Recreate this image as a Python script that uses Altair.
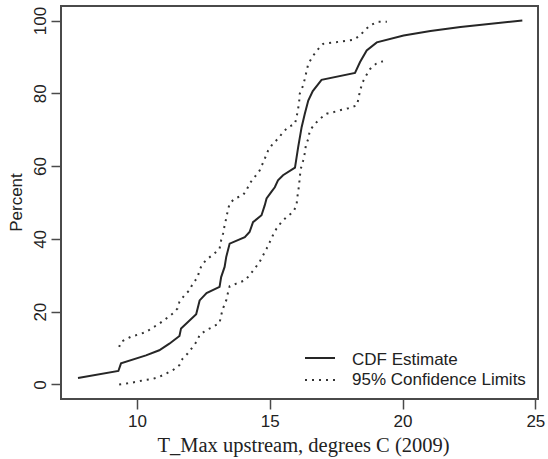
import altair as alt
import pandas as pd

# Empirical CDF of daily maximum upstream temperature (2009), in percent
cdf_x = [7.78, 9.30, 9.40, 10.34, 10.84, 11.22, 11.60, 11.66, 12.23, 12.36,
         12.62, 13.11, 13.17, 13.30, 13.36, 13.49, 14.06, 14.24, 14.37, 14.69,
         14.81, 14.88, 15.06, 15.19, 15.31, 15.50, 15.95, 16.07, 16.20, 16.32,
         16.45, 16.62, 16.95, 18.21, 18.40, 18.65, 19.03, 20.04, 21.05, 22.18,
         24.51]
cdf_y = [1.8, 3.7, 5.8, 8.0, 9.4, 11.2, 13.3, 15.4, 19.3, 23.1,
         25.1, 26.8, 29.5, 32.3, 35.0, 38.7, 40.5, 41.9, 44.6, 46.5,
         49.2, 51.1, 52.9, 54.2, 56.1, 57.5, 59.6, 65.2, 70.7, 74.4,
         78.0, 80.6, 83.7, 85.6, 88.6, 91.8, 94.0, 95.9, 97.1, 98.2,
         100.0]

# Upper 95% confidence limit
upper_x = [9.33, 9.40, 9.77, 10.09, 10.34, 10.59, 10.84, 11.10, 11.35, 11.53,
           11.60, 11.79, 11.98, 12.10, 12.29, 12.35, 12.48, 12.67, 12.92, 13.11,
           13.17, 13.24, 13.30, 13.36, 13.42, 13.49, 13.68, 13.99, 14.12, 14.24,
           14.43, 14.62, 14.81, 14.94, 15.12, 15.31, 15.50, 15.69, 15.95, 16.01,
           16.07, 16.11, 16.13, 16.26, 16.32, 16.45, 16.64, 16.83, 17.01, 18.15,
           18.40, 18.59, 18.84, 19.09, 19.41]
upper_y = [10.3, 11.7, 13.1, 13.8, 14.4, 15.6, 16.7, 18.1, 19.5, 20.9,
           22.7, 24.5, 25.9, 27.7, 29.5, 31.4, 33.2, 34.6, 36.0, 37.3,
           39.6, 41.4, 43.7, 45.6, 47.8, 49.7, 51.1, 52.0, 53.3, 55.2,
           57.0, 58.8, 62.0, 64.3, 66.2, 67.5, 69.3, 70.7, 71.6, 73.5,
           75.8, 78.0, 79.9, 82.2, 84.0, 88.1, 90.4, 92.2, 93.6, 94.7,
           95.9, 97.5, 98.9, 99.7, 99.7]

# Lower 95% confidence limit
lower_x = [9.33, 9.65, 9.96, 10.28, 10.59, 10.84, 11.10, 11.35, 11.60, 11.72,
           11.91, 12.10, 12.29, 12.35, 12.60, 12.86, 13.11, 13.17, 13.24, 13.36,
           13.42, 13.49, 13.74, 14.06, 14.24, 14.43, 14.62, 14.75, 14.88, 15.00,
           15.12, 15.25, 15.44, 15.63, 15.88, 16.01, 16.03, 16.07, 16.11, 16.13,
           16.17, 16.26, 16.32, 16.36, 16.45, 16.51, 16.70, 16.89, 17.14, 17.39,
           17.71, 17.96, 18.28, 18.34, 18.40, 18.50, 18.63, 18.78, 19.00, 19.26]
lower_y = [0.0, 0.3, 0.7, 1.2, 1.5, 2.1, 3.0, 3.9, 5.3, 7.1,
           8.5, 10.3, 12.2, 13.5, 14.9, 15.8, 16.9, 19.0, 20.9, 23.1,
           25.0, 27.0, 27.7, 28.6, 30.0, 31.8, 33.7, 35.5, 37.3, 39.1,
           41.0, 42.8, 44.6, 46.0, 47.4, 49.2, 51.1, 52.9, 55.2, 57.0,
           59.3, 61.6, 63.6, 65.7, 67.5, 69.8, 71.6, 73.0, 74.4, 74.8,
           75.5, 75.9, 76.7, 78.5, 80.8, 83.1, 84.9, 86.7, 88.1, 88.8]

x_ticks = [10, 15, 20, 25]
y_ticks = [0, 20, 40, 60, 80, 100]
legend_labels = ["CDF Estimate", "95% Confidence Limits"]

cdf_df = pd.DataFrame({"x": cdf_x, "y": cdf_y, "i": range(len(cdf_x))})
ci_df = pd.concat([
    pd.DataFrame({"x": upper_x, "y": upper_y, "i": range(len(upper_x)), "s": "upper"}),
    pd.DataFrame({"x": lower_x, "y": lower_y, "i": range(len(lower_x)), "s": "lower"}),
])

xs = alt.Scale(domain=[7.14, 25.1], nice=False, zero=False)
ys = alt.Scale(domain=[-4, 104], nice=False, zero=False)

x_axis = alt.Axis(values=x_ticks, title="T_Max upstream, degrees C (2009)",
                  labelBaseline="alphabetic", labelPadding=17,
                  titleFont="Liberation Serif", titleFontSize=20.5,
                  titleFontWeight="normal", titleBaseline="alphabetic",
                  titleX=242, titleY=52)
y_axis = alt.Axis(values=y_ticks, title="Percent", labelAngle=-90,
                  labelAlign="center", labelBaseline="alphabetic", labelPadding=6,
                  titleFont="Liberation Sans", titleFontSize=17,
                  titleFontWeight="normal", titleAngle=-90, titleAlign="center",
                  titleBaseline="alphabetic", titleX=-40, titleY=196)

cdf_line = alt.Chart(cdf_df).mark_line(color="#262626", strokeWidth=2).encode(
    x=alt.X("x:Q", scale=xs, axis=x_axis),
    y=alt.Y("y:Q", scale=ys, axis=y_axis),
    order="i:Q",
)

ci_lines = alt.Chart(ci_df).mark_line(color="#333333", strokeWidth=2,
                                      strokeDash=[2, 5]).encode(
    x=alt.X("x:Q", scale=xs),
    y=alt.Y("y:Q", scale=ys),
    detail="s:N",
    order="i:Q",
)

# Legend in the lower-right corner of the panel
leg_df = pd.DataFrame({"label": legend_labels})
leg_solid = alt.Chart(leg_df.iloc[[0]]).mark_rule(color="#262626", strokeWidth=2).encode(
    x=alt.value(244), x2=alt.value(274), y=alt.value(352))
leg_dot = alt.Chart(leg_df.iloc[[1]]).mark_rule(color="#333333", strokeWidth=2,
                                                 strokeDash=[2, 5]).encode(
    x=alt.value(244), x2=alt.value(274), y=alt.value(374))
leg_text1 = alt.Chart(leg_df.iloc[[0]]).mark_text(
    align="left", baseline="alphabetic", font="Liberation Sans", fontSize=17,
    color="#222222").encode(x=alt.value(291), y=alt.value(359), text="label:N")
leg_text2 = alt.Chart(leg_df.iloc[[1]]).mark_text(
    align="left", baseline="alphabetic", font="Liberation Sans", fontSize=17,
    color="#222222").encode(x=alt.value(291), y=alt.value(378.5), text="label:N")

chart = alt.layer(ci_lines, cdf_line, leg_solid, leg_dot, leg_text1, leg_text2).properties(
    width=477, height=393,
    autosize=alt.AutoSizeParams(type="none"),
    padding={"left": 61, "top": 6, "right": 10, "bottom": 60},
    background="white",
).configure_view(
    stroke="#4a4a4a", strokeWidth=2
).configure_axis(
    grid=False, domain=False, ticks=True, tickSize=10, tickWidth=1.5,
    tickColor="#4a4a4a", labelFont="Liberation Sans", labelFontSize=17,
    labelColor="#222222", titleColor="#222222"
)

chart.save("out.html", embed_options={"renderer": "svg", "actions": False})
